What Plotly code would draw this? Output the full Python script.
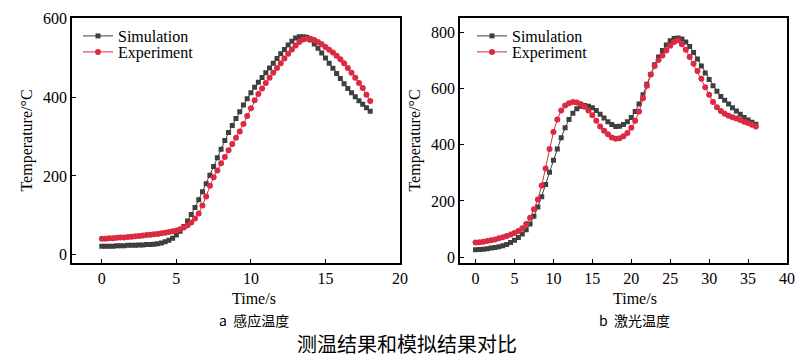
import plotly.graph_objects as go

# ---- data: panel a (induction heating), t step 0.25 s ----
t_a = [i * 0.25 for i in range(73)]
sim_a = [22, 22, 22, 22, 23, 23, 23, 24, 24, 24, 25, 25, 26, 26, 27, 28,
         30, 33, 37, 42, 50, 60, 72, 86, 102, 120, 140, 160, 180, 202, 224, 246,
         268, 290, 310, 328, 346, 363, 380, 396, 411, 425, 438, 450, 462, 474, 486, 498,
         510, 521, 532, 542, 550, 553, 553, 552, 545, 535, 524, 512, 499, 486, 473, 460,
         447, 434, 422, 411, 401, 391, 382, 373, 364]
exp_a = [41, 41, 42, 42, 43, 44, 44, 45, 46, 47, 48, 49, 50, 51, 52, 53,
         55, 56, 58, 60, 62, 65, 69, 75, 82, 92, 105, 125, 148, 175, 197, 214,
         232, 248, 265, 281, 297, 313, 332, 352, 372, 392, 408, 422, 436, 449, 462, 474,
         486, 498, 510, 521, 531, 540, 546, 548, 548, 545, 540, 534, 527, 520, 513, 505,
         496, 486, 474, 462, 449, 436, 423, 406, 390]

# ---- data: panel b (laser heating), t step 0.5 s ----
t_b = [i * 0.5 for i in range(73)]
sim_b = [26, 27, 28, 30, 32, 34, 37, 40, 45, 52, 60, 70, 82, 97, 118, 145,
         178, 215, 258, 302, 345, 385, 425, 460, 490, 512, 528, 537, 540, 537, 532, 522,
         508, 495, 482, 472, 465, 466, 472, 482, 497, 518, 545, 578, 615, 650, 685, 712,
         735, 755, 770, 778, 780, 776, 766, 750, 728, 705, 680, 655, 632, 610, 590, 572,
         558, 545, 532, 520, 508, 497, 488, 480, 473]
exp_b = [52, 53, 55, 57, 60, 63, 67, 71, 75, 80, 86, 93, 103, 118, 140, 170,
         205, 255, 315, 385, 445, 490, 522, 540, 548, 552, 550, 545, 535, 522, 505, 485,
         465, 450, 437, 426, 421, 423, 430, 442, 460, 485, 518, 565, 610, 650, 680, 702,
         718, 735, 752, 766, 772, 758, 738, 712, 688, 662, 635, 605, 578, 552, 533, 520,
         510, 503, 498, 493, 488, 482, 477, 471, 465]

SIM_COLOR = "#3f3f3f"
EXP_COLOR = "#dc2a42"
SERIF = "Liberation Serif, Times New Roman, serif"
CJK = "Noto Sans CJK SC"
FS = 16

fig = go.Figure()

def add_pair(t, sim, exp, xa, ya, leg_sim, leg_exp):
    fig.add_trace(go.Scatter(x=t, y=sim, name="Simulation", mode="lines+markers",
                             line=dict(color=SIM_COLOR, width=1),
                             marker=dict(symbol="square", size=5, color=SIM_COLOR),
                             xaxis=xa, yaxis=ya, legend=leg_sim))
    fig.add_trace(go.Scatter(x=t, y=exp, name="Experiment", mode="lines+markers",
                             line=dict(color=EXP_COLOR, width=1),
                             marker=dict(symbol="circle", size=6, color=EXP_COLOR),
                             xaxis=xa, yaxis=ya, legend=leg_exp))

add_pair(t_a, sim_a, exp_a, "x", "y", "legend", "legend2")
add_pair(t_b, sim_b, exp_b, "x2", "y2", "legend3", "legend4")

W, H = 804, 361
def px(x):
    return x / W
def py(y):
    return 1 - y / H

axis_common = dict(showline=True, mirror=True, linecolor="black", linewidth=1.5,
                   ticks="inside", ticklen=4, tickwidth=1, tickcolor="black",
                   showgrid=False, zeroline=False, automargin=False,
                   tickfont=dict(family=SERIF, size=FS, color="black"))

def leg(x, y):
    return dict(x=px(x), y=py(y), xanchor="left", yanchor="middle",
                bgcolor="rgba(0,0,0,0)", borderwidth=0,
                font=dict(family=SERIF, size=FS, color="black"))

ydom = [py(262.7), py(18.3)]
fig.update_layout(
    width=W, height=H, margin=dict(l=0, r=0, t=0, b=0, autoexpand=False),
    paper_bgcolor="white", plot_bgcolor="white",
    xaxis=dict(domain=[px(72), px(400)], range=[-2, 20], dtick=5, tick0=0,
               anchor="y", **axis_common),
    yaxis=dict(domain=ydom, range=[-20, 600], dtick=200, tick0=0, anchor="x",
               title=dict(text="Temperature/°C", standoff=6,
                          font=dict(family=SERIF, size=FS, color="black")),
               **axis_common),
    xaxis2=dict(domain=[px(460), px(787)], range=[-2, 40], dtick=5, tick0=0,
                anchor="y2", **axis_common),
    yaxis2=dict(domain=ydom, range=[-20, 850], dtick=200, tick0=0, anchor="x2",
                title=dict(text="Temperature/°C", standoff=6,
                           font=dict(family=SERIF, size=FS, color="black")),
                **axis_common),
    legend=leg(78, 36),
    legend2=leg(78, 52),
    legend3=leg(472, 36),
    legend4=leg(472, 52),
    showlegend=True,
)

annos = [
    dict(text="Time/s", x=px(254), y=py(298), font=dict(family=SERIF, size=FS, color="black")),
    dict(text="Time/s", x=px(635), y=py(298), font=dict(family=SERIF, size=FS, color="black")),
    dict(text="a  感应温度", x=px(254), y=py(320), font=dict(family=CJK, size=14, color="black")),
    dict(text="b  激光温度", x=px(634), y=py(320), font=dict(family=CJK, size=14, color="black")),
    dict(text="测温结果和模拟结果对比", x=px(407), y=py(343), font=dict(family=CJK, size=20, color="black")),
]
for a in annos:
    fig.add_annotation(xref="paper", yref="paper", showarrow=False,
                       xanchor="center", yanchor="middle", **a)

fig.write_html("out.html", config={"displayModeBar": False},
               post_script="document.body.style.margin='0';document.body.style.overflow='hidden';")
